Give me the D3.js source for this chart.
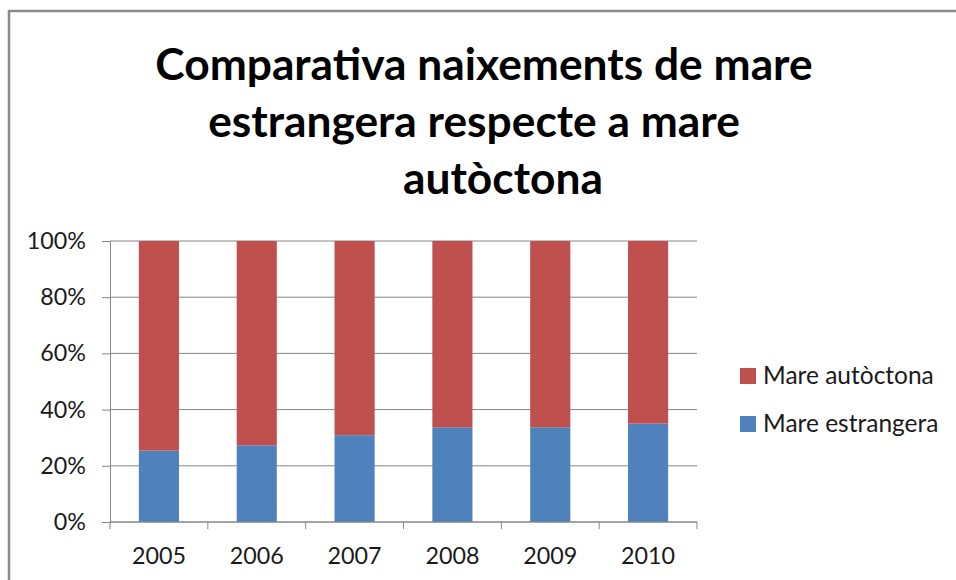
<!DOCTYPE html>
<html>
<head>
<meta charset="utf-8">
<script src="https://cdn.jsdelivr.net/npm/d3@7"></script>
<style>
  body { margin: 0; background: #fff; }
  text { font-family: Lato, "Open Sans", sans-serif; fill: #1a1a1a; }
</style>
</head>
<body>
<svg id="chart" width="956" height="580"></svg>
<script>
const years = ['2005', '2006', '2007', '2008', '2009', '2010'];
const mareEstrangera = [25.4, 27.3, 30.9, 33.7, 33.7, 35.0];
const mareAutoctona = [74.6, 72.7, 69.1, 66.3, 66.3, 65.0];
const seriesNames = ['Mare estrangera', 'Mare autòctona'];
const seriesColors = ['#4F81BD', '#C0504D'];
const yTicks = [0, 20, 40, 60, 80, 100];
const titleLines = ['Comparativa naixements de mare', 'estrangera respecte a mare', 'autòctona'];

const svg = d3.select('#chart');
const margin = { top: 241, right: 259, bottom: 58, left: 110 };
const width = 956 - margin.left - margin.right;
const height = 580 - margin.top - margin.bottom;

// chart frame (only top and left edges are visible in the crop)
svg.append('path')
  .attr('d', 'M9,580 V11 H956')
  .attr('fill', 'none')
  .attr('stroke', '#8a8a8a')
  .attr('stroke-width', 2.5);

// title
const titleX = [484, 474, 503];
svg.append('g')
  .selectAll('text')
  .data(titleLines)
  .join('text')
  .attr('x', (d, i) => titleX[i])
  .attr('y', (d, i) => 80 + i * 57)
  .attr('text-anchor', 'middle')
  .attr('font-size', 44.3)
  .attr('font-weight', 'bold')
  .style('fill', '#000')
  .text((d) => d);

const data = years.map((y, i) => ({
  year: y,
  'Mare estrangera': mareEstrangera[i],
  'Mare autòctona': mareAutoctona[i]
}));

const stack = d3.stack().keys(seriesNames);
const stacked = stack(data);

const xScale = d3.scaleBand().domain(years).range([0, width]).paddingInner(0.59).paddingOuter(0.295);
const yScale = d3.scaleLinear().domain([0, 100]).range([height, 0]);

const g = svg.append('g')
  .attr('transform', `translate(${margin.left},${margin.top})`);

// gridlines
g.append('g')
  .selectAll('line')
  .data(yTicks)
  .join('line')
  .attr('x1', 0)
  .attr('x2', width)
  .attr('y1', (d) => yScale(d))
  .attr('y2', (d) => yScale(d))
  .attr('stroke', '#868686')
  .attr('stroke-width', 1);

// bars
g.append('g')
  .selectAll('g')
  .data(stacked)
  .join('g')
  .attr('fill', (d, i) => seriesColors[i])
  .selectAll('rect')
  .data((d) => d)
  .join('rect')
  .attr('x', (d) => xScale(d.data.year))
  .attr('y', (d) => yScale(d[1]))
  .attr('width', xScale.bandwidth())
  .attr('height', (d) => yScale(d[0]) - yScale(d[1]));

// y axis
const yAxis = d3.axisLeft(yScale)
  .tickValues(yTicks)
  .tickFormat((d) => d + '%')
  .tickSize(8)
  .tickPadding(16);

const yG = g.append('g').call(yAxis);
yG.select('.domain').attr('stroke', '#868686');
yG.selectAll('.tick line').attr('stroke', '#868686');
yG.selectAll('.tick text')
  .attr('font-size', 23.3)
  .attr('font-family', 'Lato, sans-serif')
  .attr('fill', '#1a1a1a');

// x axis, ticks sit on category boundaries
const xAxisG = g.append('g').attr('transform', `translate(0,${height})`);
xAxisG.append('line')
  .attr('x1', 0).attr('x2', width)
  .attr('stroke', '#868686');
const boundaries = d3.range(years.length + 1).map((i) => i * width / years.length);
xAxisG.selectAll('.xtick')
  .data(boundaries)
  .join('line')
  .attr('class', 'xtick')
  .attr('x1', (d) => d).attr('x2', (d) => d)
  .attr('y1', 0).attr('y2', 7)
  .attr('stroke', '#868686');
xAxisG.selectAll('.xlabel')
  .data(years)
  .join('text')
  .attr('class', 'xlabel')
  .attr('x', (d) => xScale(d) + xScale.bandwidth() / 2)
  .attr('y', 42)
  .attr('text-anchor', 'middle')
  .attr('font-size', 23.3)
  .text((d) => d);

// legend (autòctona on top)
const legendItems = [
  { name: seriesNames[1], color: seriesColors[1] },
  { name: seriesNames[0], color: seriesColors[0] }
];
const legend = svg.append('g').attr('transform', 'translate(740,368)');
const item = legend.selectAll('g')
  .data(legendItems)
  .join('g')
  .attr('transform', (d, i) => `translate(0,${i * 48})`);
item.append('rect')
  .attr('width', 16)
  .attr('height', 16)
  .attr('fill', (d) => d.color);
item.append('text')
  .attr('x', 23)
  .attr('y', 16)
  .attr('font-size', 24.5)
  .text((d) => d.name);
</script>
</body>
</html>
